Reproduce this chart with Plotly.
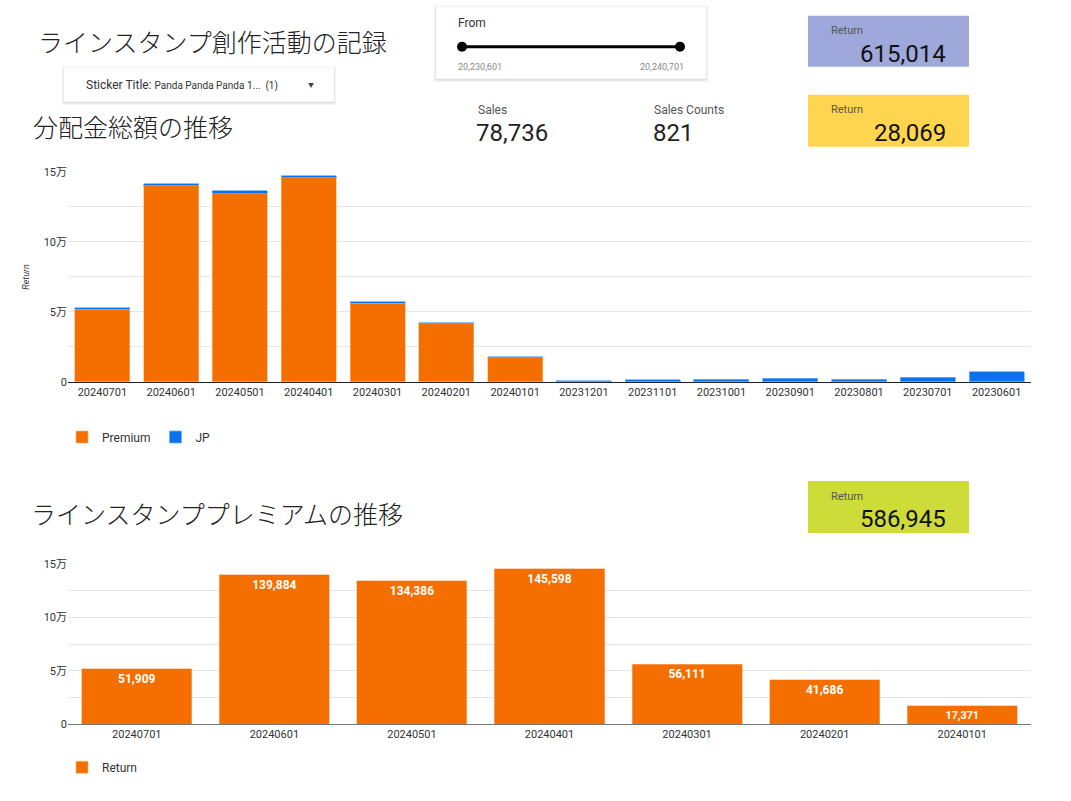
import plotly.graph_objects as go

W, H = 1071, 801

# ---- data ----
months_all = ["20240701", "20240601", "20240501", "20240401", "20240301", "20240201", "20240101",
              "20231201", "20231101", "20231001", "20230901", "20230801", "20230701", "20230601"]
premium_all = [51909, 139884, 134386, 145598, 56111, 41686, 17371, 0, 0, 0, 0, 0, 0, 0]
jp_all = [950, 1700, 2100, 1500, 1100, 750, 700, 800, 1500, 2000, 2500, 1950, 3300, 7219]

months_premium = ["20240701", "20240601", "20240501", "20240401", "20240301", "20240201", "20240101"]
premium_return = [51909, 139884, 134386, 145598, 56111, 41686, 17371]

ytick_vals = [0, 50000, 100000, 150000]
ytick_text = ["0", "5万", "10万", "15万"]

kpi_total = "615,014"
kpi_jp = "28,069"
kpi_premium = "586,945"
sales = "78,736"
sales_counts = "821"
slider_from, slider_to = "20,230,601", "20,240,701"

ORANGE = "#f56f00"
BLUE = "#0a72ea"
FONT = "Roboto, 'Noto Sans CJK JP', sans-serif"
JP_FONT = "'Noto Sans CJK JP', sans-serif"


def px(x):
    return x / W


def py(y):
    # screenshot comes out slightly squeezed vertically, compensate
    y = (y - 6.3) / 0.983
    return 1 - y / H


fig = go.Figure()

fig.add_trace(go.Bar(x=months_all, y=premium_all, name="Premium", marker_color=ORANGE,
                     marker_line=dict(color="#ffb27a", width=0.6),
                     xaxis="x", yaxis="y", legend="legend"))
fig.add_trace(go.Bar(x=months_all, y=jp_all, name="JP", marker_color=BLUE,
                     marker_line=dict(color="#6fb0f5", width=0.8),
                     xaxis="x", yaxis="y", legend="legend"))
fig.add_trace(go.Bar(x=months_premium, y=premium_return, name="Return", marker_color=ORANGE,
                     marker_line=dict(color="#ffb27a", width=0.6),
                     xaxis="x2", yaxis="y2", legend="legend2",
                     texttemplate="<b>%{y:,}</b>", textposition="inside",
                     insidetextanchor="end", textangle=0,
                     textfont=dict(color="white", size=12, family=FONT)))

yax = dict(range=[0, 150000], tickvals=ytick_vals, ticktext=ytick_text,
           showgrid=True, gridcolor="#e6e6e6", gridwidth=1,
           minor=dict(dtick=25000, showgrid=True, gridcolor="#e6e6e6", gridwidth=1),
           tickfont=dict(size=11, color="#333", family=FONT), ticks="",
           zeroline=False, fixedrange=True)

fig.update_layout(
    width=W, height=H,
    margin=dict(l=0, r=0, t=0, b=0),
    paper_bgcolor="white", plot_bgcolor="white",
    barmode="stack", bargap=0.2,
    font=dict(family=FONT, color="#222"),
    xaxis=dict(domain=[px(68), px(1031)], anchor="y", showline=True, linecolor="#222",
               linewidth=1, tickfont=dict(size=11, color="#333"), type="category"),
    yaxis=dict(domain=[py(382), py(172)], anchor="x", **yax,
               title=dict(text="<i>Return</i>", font=dict(size=9, color="#333"), standoff=12)),
    xaxis2=dict(domain=[px(68), px(1031)], anchor="y2", showline=True, linecolor="#777",
                linewidth=1, tickfont=dict(size=11, color="#333"), type="category"),
    yaxis2=dict(domain=[py(724), py(564)], anchor="x2", **yax),
    legend=dict(orientation="h", x=px(62), y=py(437), xanchor="left", yanchor="middle",
                traceorder="normal",
                font=dict(size=12, color="#333"), bgcolor="rgba(0,0,0,0)"),
    legend2=dict(orientation="h", x=px(62), y=py(767), xanchor="left", yanchor="middle",
                 font=dict(size=12, color="#333"), bgcolor="rgba(0,0,0,0)"),
)

shapes = []


def card(x0, y0, x1, y1, fill, shadow=False):
    if shadow:
        for i, c in enumerate(["#f2f2f2", "#e8e8e8", "#dcdcdc"]):
            d = 3 - i
            shapes.append(dict(type="rect", xref="paper", yref="paper", layer="below",
                               x0=px(x0 - d + 1), x1=px(x1 + d - 1), y0=py(y1 + d), y1=py(y0 - d + 2),
                               line=dict(width=0), fillcolor=c))
    shapes.append(dict(type="rect", xref="paper", yref="paper", layer="below",
                       x0=px(x0), x1=px(x1), y0=py(y1), y1=py(y0),
                       line=dict(width=0), fillcolor=fill))


card(64, 68, 334, 102, "white", shadow=True)
card(436, 7, 706, 79, "white", shadow=True)
card(808, 16, 969, 67, "#9fa8da")
card(808, 95, 969, 147, "#ffd54f")
card(808, 481, 969, 533, "#cddc39")

# slider
shapes.append(dict(type="line", xref="paper", yref="paper", x0=px(462), x1=px(680),
                   y0=py(47), y1=py(47), line=dict(color="black", width=3)))
for cx in (462, 680):
    shapes.append(dict(type="circle", xref="paper", yref="paper", x0=px(cx - 5), x1=px(cx + 5),
                       y0=py(52), y1=py(42), fillcolor="black", line=dict(width=0)))

fig.update_layout(shapes=shapes)

ann = []


def text(x, y, s, size, color="#222", anchor="left", family=FONT, weight=None):
    f = dict(size=size, color=color, family=family)
    if weight:
        f["weight"] = weight
    ann.append(dict(x=px(x), y=py(y), xref="paper", yref="paper", text=s, showarrow=False,
                    xanchor=anchor, yanchor="middle", font=f))


text(36, 41, "ラインスタンプ創作活動の記録", 25, "#222", family=JP_FONT, weight=300)
text(31, 126, "分配金総額の推移", 25, "#222", family=JP_FONT, weight=300)
text(29, 513, "ラインスタンププレミアムの推移", 25, "#222", family=JP_FONT, weight=300)

text(84, 85, "Sticker Title: <span style='font-size:10px'>Panda Panda Panda 1...  (1)</span>", 12, "#333")
text(311, 85, "▼", 6, "#444", anchor="center")

text(456, 23, "From", 12, "#333")
text(456, 67, slider_from, 9, "#888")
text(686, 67, slider_to, 9, "#888", anchor="right")

text(476, 110, "Sales", 12, "#555")
text(474, 133, sales, 24, "#222")
text(652, 110, "Sales Counts", 12, "#555")
text(651, 133, sales_counts, 24, "#222")

for ytop, val in ((16, kpi_total), (95, kpi_jp), (481, kpi_premium)):
    text(829, ytop + 15, "Return", 11, "#555")
    text(948, ytop + 38, val, 24, "#111", anchor="right")

fig.update_layout(annotations=ann)

fig.write_html("out.html", config={"displayModeBar": False},
               post_script="document.body.style.margin='0';")
